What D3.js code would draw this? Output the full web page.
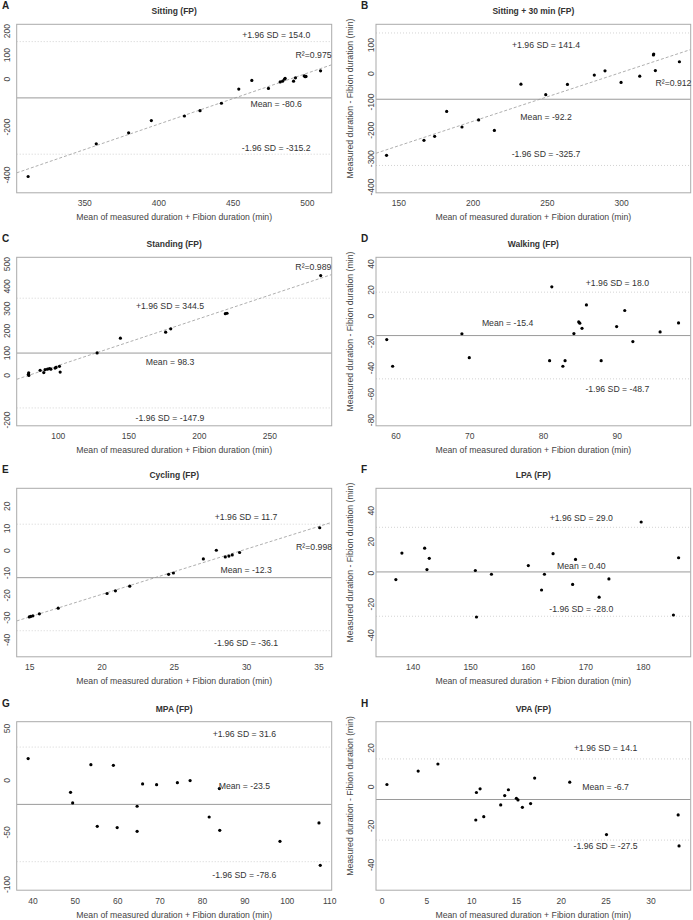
<!DOCTYPE html>
<html>
<head>
<meta charset="utf-8">
<script src="https://cdn.jsdelivr.net/npm/d3@7"></script>
<style>
  body { margin: 0; background: #fff; }
  text { font-family: "Liberation Sans", Arial, sans-serif; }
</style>
</head>
<body>
<svg id="chart" width="693" height="920"></svg>
<script>
// panel letters and titles
var letters = ['A', 'B', 'C', 'D', 'E', 'F', 'G', 'H'];
var titles = ['Sitting (FP)', 'Sitting + 30 min (FP)', 'Standing (FP)', 'Walking (FP)',
              'Cycling (FP)', 'LPA (FP)', 'MPA (FP)', 'VPA (FP)'];

// mean of the two methods (x) and difference (y), per panel
var sittingX = [312.2, 358.1, 379.9, 395.2, 417.5, 428.0, 442.4, 454.1, 462.9, 474.1, 482.0, 483.6, 484.9, 485.3, 491.0, 492.3, 498.2, 498.9, 499.4, 509.2];
var sittingY = [-408, -272, -226, -175, -156, -134, -103, -44, -8, -41, -14, -11, -3, 1, -11, 3, 11, 8, 9, 32];
var sitting30X = [142.1, 167.3, 174.5, 182.6, 192.9, 204.1, 214.7, 232.6, 249.3, 263.9, 282.0, 289.2, 300.0, 312.6, 321.8, 322.0, 323.1, 339.3];
var sitting30Y = [-290, -237, -223, -135, -190, -165, -202, -39, -76, -40, -7, 8, -33, -11, 64, 67, 9, 40];
var standingX = [79.2, 79.5, 79.4, 87.5, 90.1, 91.0, 92.7, 94.1, 95.1, 98.1, 98.8, 101.2, 101.7, 127.9, 144.4, 176.5, 180.1, 218.8, 220.0, 286.4];
var standingY = [3, -2, 10, 21, 11, 24, 26, 29, 26, 31, 34, 39, 13, 99, 165, 192, 207, 275, 277, 446];
var walkingX = [58.8, 59.6, 69.0, 70.0, 80.9, 81.2, 82.7, 83.0, 84.2, 84.85, 85.0, 85.3, 85.9, 87.9, 90.0, 91.1, 92.2, 95.9, 98.4];
var walkingY = [-18.5, -39, -14, -32.4, -34.7, 22.1, -39, -34.7, -13.9, -4.9, -5.9, -9.8, 8.2, -34.7, -8.5, 3.9, -20, -12.6, -5.7];
var cyclingX = [15.0, 15.1, 15.25, 15.7, 17.0, 20.38, 20.96, 21.95, 24.64, 24.97, 27.04, 27.94, 28.56, 28.81, 29.04, 29.55, 35.09];
var cyclingY = [-29.9, -29.7, -29.4, -28.5, -26.0, -19.4, -18.2, -16.1, -10.8, -10.2, -3.9, 0, -3.0, -2.6, -2.1, -1.0, 10.1];
var lpaX = [137.1, 138.15, 142.1, 142.5, 142.9, 150.9, 151.1, 153.7, 160.1, 162.4, 162.9, 164.4, 167.8, 168.3, 172.4, 174.1, 179.7, 185.3, 186.2];
var lpaY = [-4.5, 12.5, 15.6, 1.9, 9.1, 1.3, -28.5, -1.1, 4.5, -11.2, -1.1, 12.1, -7.6, 8.4, -15.8, -4.1, 32.4, -27.2, 9.5];
var mpaX = [39.0, 49.0, 49.5, 53.8, 55.3, 59.1, 60.0, 64.7, 64.7, 66.0, 69.3, 74.2, 77.2, 81.7, 84.1, 84.2, 98.4, 107.6, 107.9];
var mpaY = [20.5, -11.9, -22.1, 14.7, -44.6, 14.1, -45.8, -49.4, -25.3, -3.8, -4.5, -2.6, -0.6, -35.6, -8.3, -48.4, -59.0, -41.3, -82.1];
var vpaX = [0.59, 4.08, 6.28, 10.51, 10.58, 10.99, 11.4, 13.29, 13.74, 14.15, 15.04, 15.22, 15.71, 16.63, 17.08, 21.0, 25.1, 33.1, 33.2];
var vpaY = [1.0, 7.9, 11.5, -17.2, -3.1, -1.2, -15.5, -9.5, -4.7, -1.7, -6.1, -6.9, -10.7, -8.8, 4.3, 2.2, -24.7, -14.6, -30.5];

var seriesX = [sittingX, sitting30X, standingX, walkingX, cyclingX, lpaX, mpaX, vpaX];
var seriesY = [sittingY, sitting30Y, standingY, walkingY, cyclingY, lpaY, mpaY, vpaY];

// bias and limits of agreement
var meanDiff = [-80.6, -92.2, 98.3, -15.4, -12.3, 0.40, -23.5, -6.7];
var upperLoA = [154.0, 141.4, 344.5, 18.0, 11.7, 29.0, 31.6, 14.1];
var lowerLoA = [-315.2, -325.7, -147.9, -48.7, -36.1, -28.0, -78.6, -27.5];
var meanText = ['-80.6', '-92.2', '98.3', '-15.4', '-12.3', '0.40', '-23.5', '-6.7'];
var upperText = ['154.0', '141.4', '344.5', '18.0', '11.7', '29.0', '31.6', '14.1'];
var lowerText = ['-315.2', '-325.7', '-147.9', '-48.7', '-36.1', '-28.0', '-78.6', '-27.5'];

// regression of difference on mean (null = not drawn)
var regSlope = [2.122, 1.725, 2.105, null, 2.03, null, null, null];
var regIntercept = [-1039, -515.4, -168.7, null, -60.4, null, null, null];
var r2Text = ['0.975', '0.912', '0.989', null, '0.998', null, null, null];

// axis limits and ticks
var xLims = [[304.5, 516.7], [135, 346.9], [70.9, 294.2], [57.34, 100.05],
             [14.13, 35.92], [133.65, 188.3], [36.3, 110.6], [-0.63, 34.5]];
var yLims = [[-450, 200], [-400, 150], [-200, 500], [-80, 40],
             [-45, 25], [-50, 50], [-100, 50], [-50, 30]];
var xTicks = [[350, 400, 450, 500], [150, 200, 250, 300], [100, 150, 200, 250], [60, 70, 80, 90],
              [15, 20, 25, 30, 35], [140, 150, 160, 170, 180], [40, 50, 60, 70, 80, 90, 100, 110],
              [0, 5, 10, 15, 20, 25, 30]];
var yTicks = [[200, 100, 0, -100, -200, -300, -400], [100, 0, -100, -200, -300, -400],
              [500, 400, 300, 200, 100, 0, -100, -200], [40, 20, 0, -20, -40, -60, -80],
              [20, 10, 0, -10, -20, -30, -40], [40, 20, 0, -20, -40], [50, 0, -50, -100],
              [20, 0, -20, -40]];
var yTickLabels = [[200, 100, 0, -200, -400], [100, 0, -100, -200, -300, -400],
                   [500, 400, 300, 200, 100, 0, -200], [40, 20, 0, -20, -40, -60, -80],
                   [20, 10, 0, -10, -20, -30, -40], [40, 20, 0, -20, -40], [50, 0, -50, -100],
                   [20, 0, -20, -40]];

// where the annotation text sits, in data units: [x, yUpper, yMean, yLower]
var annotAt = [[479.3, 182, -106, -290], [249.5, 98.5, -153.6, -286], [179.6, 308, 58.4, -193],
               [90.1, 24.7, -5.9, -56.3], [30.0, 14.8, -8.7, -41.8], [169.3, 35.2, 4.5, -23.1],
               [90.0, 44.6, -6.1, -91], [25.0, 19.7, -0.3, -30.7]];
var meanLabelX = [479.3, 249.5, 179.6, 75.2, 30.0, 169.3, 90.0, 25.0];
var r2At = [[504.5, 99.3], [335.3, -34], [281.2, 485], null, [34.7, 1.7], null, null, null];

var xTitle = 'Mean of measured duration + Fibion duration (min)';
var yTitle = 'Measured duration - Fibion duration (min)';

// layout
var colLeft = [16.7, 376], colRight = [331.7, 690.7];
var rowTop = [24.3, 257.3, 488.3, 721.7], boxH = 168.5;
var yLabelOff = [9.4, 4.8];

var svg = d3.select('#chart');

for (var i = 0; i < letters.length; ++i) {
  drawPanel(i);
}

function fmt (d) { return String(d); }

function drawPanel (i) {
  var col = i % 2, row = Math.floor(i / 2);
  var x0 = colLeft[col], x1 = colRight[col];
  var y0 = rowTop[row], y1 = y0 + boxH;
  var x = d3.scaleLinear().domain(xLims[i]).range([x0, x1]);
  var pad = (yLims[i][1] - yLims[i][0]) * 0.04;
  var y = d3.scaleLinear().domain([yLims[i][0] - pad, yLims[i][1] + pad]).range([y1, y0]);

  var g = svg.append('g');

  g.append('clipPath').attr('id', 'clip' + i)
    .append('rect').attr('x', x0).attr('y', y0).attr('width', x1 - x0).attr('height', y1 - y0);

  // letter + title
  g.append('text').attr('x', col ? 361 : 2).attr('y', y0 - 15)
    .attr('font-size', 10).attr('font-weight', 'bold').attr('fill', '#222')
    .text(letters[i]);
  g.append('text').attr('x', (x0 + x1) / 2).attr('y', y0 - 10)
    .attr('text-anchor', 'middle').attr('font-size', 8.5).attr('font-weight', 'bold').attr('fill', '#333')
    .text(titles[i]);

  // x axis
  var xa = g.append('g').attr('transform', 'translate(0,' + y1 + ')')
    .call(d3.axisBottom(x).tickValues(xTicks[i]).tickSize(0).tickPadding(0).tickFormat(fmt));
  xa.select('.domain').remove();
  xa.selectAll('text').attr('y', 10.6).attr('dy', '0.35em')
    .attr('font-size', 8.5).attr('fill', '#444').style('font-family', '"Liberation Sans", Arial, sans-serif');

  // y axis
  var ya = g.append('g').attr('transform', 'translate(' + x0 + ',0)')
    .call(d3.axisLeft(y).tickValues(yTicks[i]).tickSize(0)
      .tickFormat(function(d) { return yTickLabels[i].indexOf(d) >= 0 ? fmt(d) : ''; }));
  ya.select('.domain').remove();
  ya.selectAll('text')
    .attr('x', 0).attr('dy', 0)
    .attr('text-anchor', 'middle')
    .attr('dominant-baseline', 'central')
    .attr('transform', 'translate(' + (-yLabelOff[col]) + ',0) rotate(-90)')
    .attr('font-size', 8.5).attr('fill', '#444').style('font-family', '"Liberation Sans", Arial, sans-serif');

  // axis titles
  g.append('text').attr('x', (x0 + x1) / 2).attr('y', y1 + 24.6).attr('dy', '0.35em')
    .attr('text-anchor', 'middle').attr('font-size', 8.7).attr('fill', '#444')
    .text(xTitle);
  if (col === 1) {
    g.append('text')
      .attr('transform', 'translate(350,' + ((y0 + y1) / 2 - 10) + ') rotate(-90)')
      .attr('text-anchor', 'middle').attr('dominant-baseline', 'central')
      .attr('font-size', 8.7).attr('fill', '#444')
      .text(yTitle);
  }

  var inner = g.append('g').attr('clip-path', 'url(#clip' + i + ')');

  // limits of agreement (dotted) and mean (solid)
  [upperLoA[i], lowerLoA[i]].forEach(function(v) {
    inner.append('line').attr('x1', x0).attr('x2', x1).attr('y1', y(v)).attr('y2', y(v))
      .attr('stroke', '#c8c8c8').attr('stroke-width', 0.8).attr('stroke-dasharray', '1,2');
  });
  inner.append('line').attr('x1', x0).attr('x2', x1).attr('y1', y(meanDiff[i])).attr('y2', y(meanDiff[i]))
    .attr('stroke', '#9a9a9a').attr('stroke-width', 1);

  // regression line
  if (regSlope[i] !== null) {
    var xd = x.domain();
    inner.append('line')
      .attr('x1', x(xd[0])).attr('y1', y(regIntercept[i] + regSlope[i] * xd[0]))
      .attr('x2', x(xd[1])).attr('y2', y(regIntercept[i] + regSlope[i] * xd[1]))
      .attr('stroke', '#9a9a9a').attr('stroke-width', 0.8).attr('stroke-dasharray', '3,2');
  }

  // points
  inner.selectAll('circle.pt').data(seriesX[i]).enter().append('circle')
    .attr('class', 'pt')
    .attr('cx', function(d) { return x(d); })
    .attr('cy', function(d, j) { return y(seriesY[i][j]); })
    .attr('r', 1.6).attr('fill', '#000');

  // box
  g.append('rect').attr('x', x0).attr('y', y0).attr('width', x1 - x0).attr('height', y1 - y0)
    .attr('fill', 'none').attr('stroke', '#aaa').attr('stroke-width', 1);

  // annotations
  var a = annotAt[i];
  var labs = [['+1.96 SD = ' + upperText[i], a[0], a[1]],
              ['Mean = ' + meanText[i], meanLabelX[i], a[2]],
              ['-1.96 SD = ' + lowerText[i], a[0], a[3]]];
  labs.forEach(function(l) {
    g.append('text').attr('x', x(l[1])).attr('y', y(l[2])).attr('dy', '0.35em')
      .attr('text-anchor', 'middle').attr('font-size', 8.7).attr('fill', '#333')
      .text(l[0]);
  });
  if (r2At[i]) {
    g.append('text').attr('x', x(r2At[i][0])).attr('y', y(r2At[i][1])).attr('dy', '0.35em')
      .attr('text-anchor', 'middle').attr('font-size', 8.7).attr('fill', '#333')
      .text('R\u00b2=' + r2Text[i]);
  }
}
</script>
</body>
</html>
